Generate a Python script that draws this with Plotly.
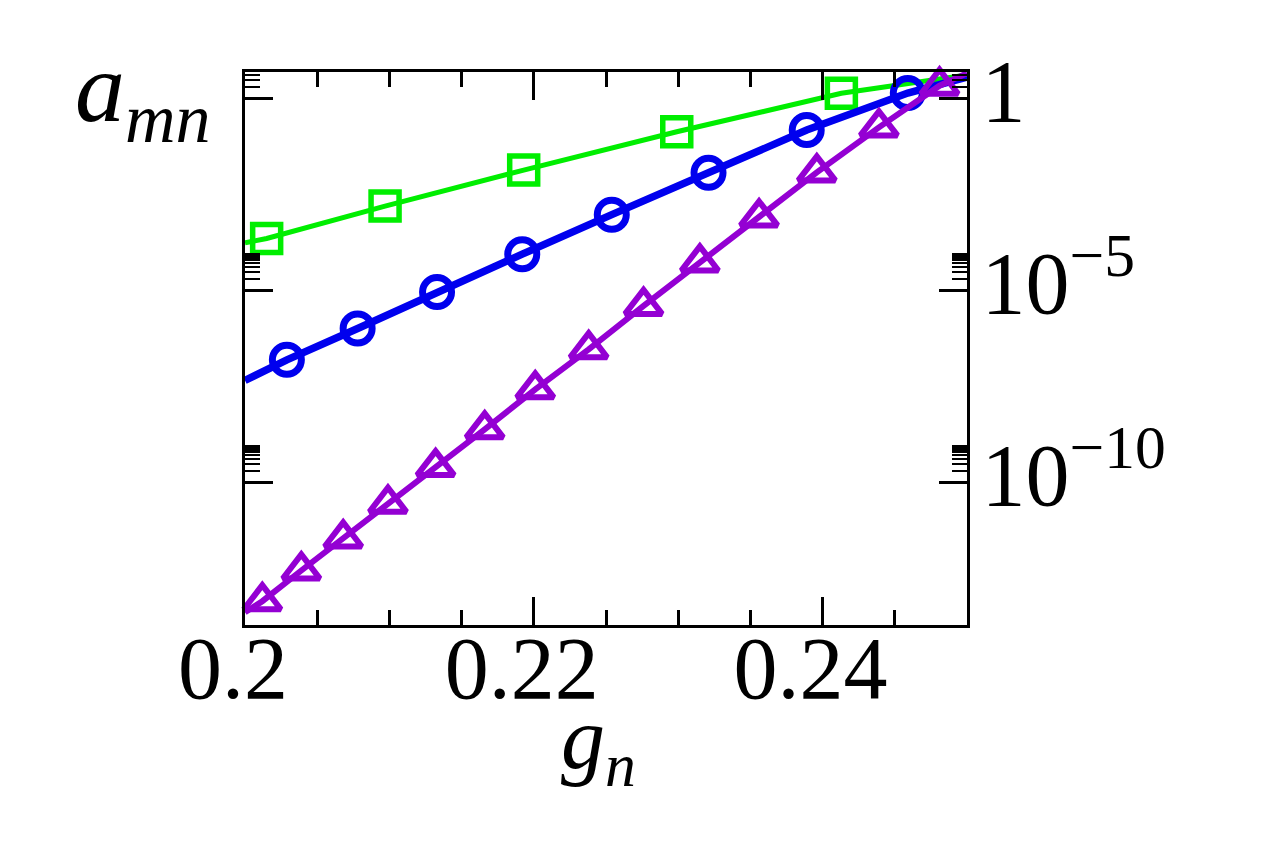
import plotly.graph_objects as go

# g_n positions and a_mn values
green_x = [0.2, 0.2015, 0.2097, 0.2193, 0.2299, 0.2413, 0.25]
green_y = [1.72e-4, 2.23e-4, 1.56e-3, 1.35e-2, 0.135, 1.35, 4.07]

blue_x = [0.2, 0.2029, 0.2078, 0.2133, 0.2192, 0.2254, 0.2321, 0.2389, 0.2459, 0.25]
blue_y = [4.49e-8, 1.545e-7, 1.007e-6, 9.06e-6, 8.71e-5, 9.33e-4, 1.148e-2, 0.149, 1.37, 3.59]

purple_x = [0.2, 0.2012, 0.2039, 0.2068, 0.2099, 0.2132, 0.2166, 0.2201, 0.2238,
            0.2276, 0.2315, 0.2356, 0.2396, 0.2439, 0.2481, 0.25]
purple_y = [4.07e-14, 7.94e-14, 5.01e-13, 3.42e-12, 2.75e-11, 2.48e-10, 2.38e-9, 2.63e-8,
            2.90e-7, 3.91e-6, 5.30e-5, 7.89e-4, 1.175e-2, 0.175, 2.13, 4.5]

x_ticks = [0.2, 0.22, 0.24]
x_labels = ['0.2', '0.22', '0.24']
y_ticks = [1, 1e-5, 1e-10]
y_labels = ['1', '10<sup>\u22125</sup>', '10<sup>\u221210</sup>']
y_minor = [m * t for t in y_ticks for m in range(2, 10)]

font = 'Liberation Serif'


def ends_hidden(xs):
    # the curve's first and last points carry no symbol
    return [0] + [1] * (len(xs) - 2) + [0]


fig = go.Figure()
fig.add_trace(go.Scatter(x=green_x, y=green_y, mode='lines+markers',
                         line=dict(color='#00ee00', width=5),
                         marker=dict(symbol='square-open', size=28, color='#00ee00',
                                     line=dict(width=5.5), opacity=ends_hidden(green_x)),
                         cliponaxis=False))
fig.add_trace(go.Scatter(x=blue_x, y=blue_y, mode='lines+markers',
                         line=dict(color='#0000ee', width=7.5),
                         marker=dict(symbol='circle-open', size=29, color='#0000ee',
                                     line=dict(width=7), opacity=ends_hidden(blue_x)),
                         cliponaxis=False))
fig.add_trace(go.Scatter(x=purple_x, y=purple_y, mode='lines+markers',
                         line=dict(color='#9400d3', width=6),
                         marker=dict(symbol='triangle-up-open', size=32, color='#9400d3',
                                     line=dict(width=6), opacity=ends_hidden(purple_x)),
                         cliponaxis=False))

axis_common = dict(showline=True, linewidth=2.7, linecolor='black', mirror='allticks',
                   ticks='inside', ticklen=28, tickwidth=2.5, tickcolor='black',
                   showgrid=False, zeroline=False,
                   tickfont=dict(family=font, size=88, color='black'))

fig.update_xaxes(range=[0.2, 0.25], tickmode='array', tickvals=x_ticks, ticktext=x_labels,
                 ticklabelstandoff=-35, ticklabelshift=-12,
                 minor=dict(dtick=0.005, tick0=0.2, ticks='inside', ticklen=15,
                            tickwidth=2.5, tickcolor='black', showgrid=False),
                 **axis_common)
fig.update_yaxes(type='log', range=[-13.72, 0.686], side='right', tickmode='array',
                 tickvals=y_ticks, ticktext=y_labels,
                 ticklabelstandoff=-6, ticklabelshift=-8,
                 minor=dict(tickmode='array', tickvals=y_minor, ticks='inside', ticklen=15,
                            tickwidth=2, tickcolor='black', showgrid=False),
                 **axis_common)

fig.add_annotation(text='<i>a<sub>mn</sub></i>', xref='paper', yref='paper',
                   x=-0.045, y=0.96, xanchor='right', yanchor='middle', showarrow=False,
                   font=dict(family=font, size=100, color='black'))
fig.add_annotation(text='<i>g<sub>n</sub></i>', xref='paper', yref='paper',
                   x=0.49, y=-0.216, xanchor='center', yanchor='middle', showarrow=False,
                   font=dict(family=font, size=88, color='black'))

# the page adds 8px around the plot, so the figure is made that much smaller
fig.update_layout(width=1255, height=841, showlegend=False,
                  margin=dict(l=237, r=296, t=64, b=224),
                  plot_bgcolor='white', paper_bgcolor='white')

fig.write_html('out.html')
